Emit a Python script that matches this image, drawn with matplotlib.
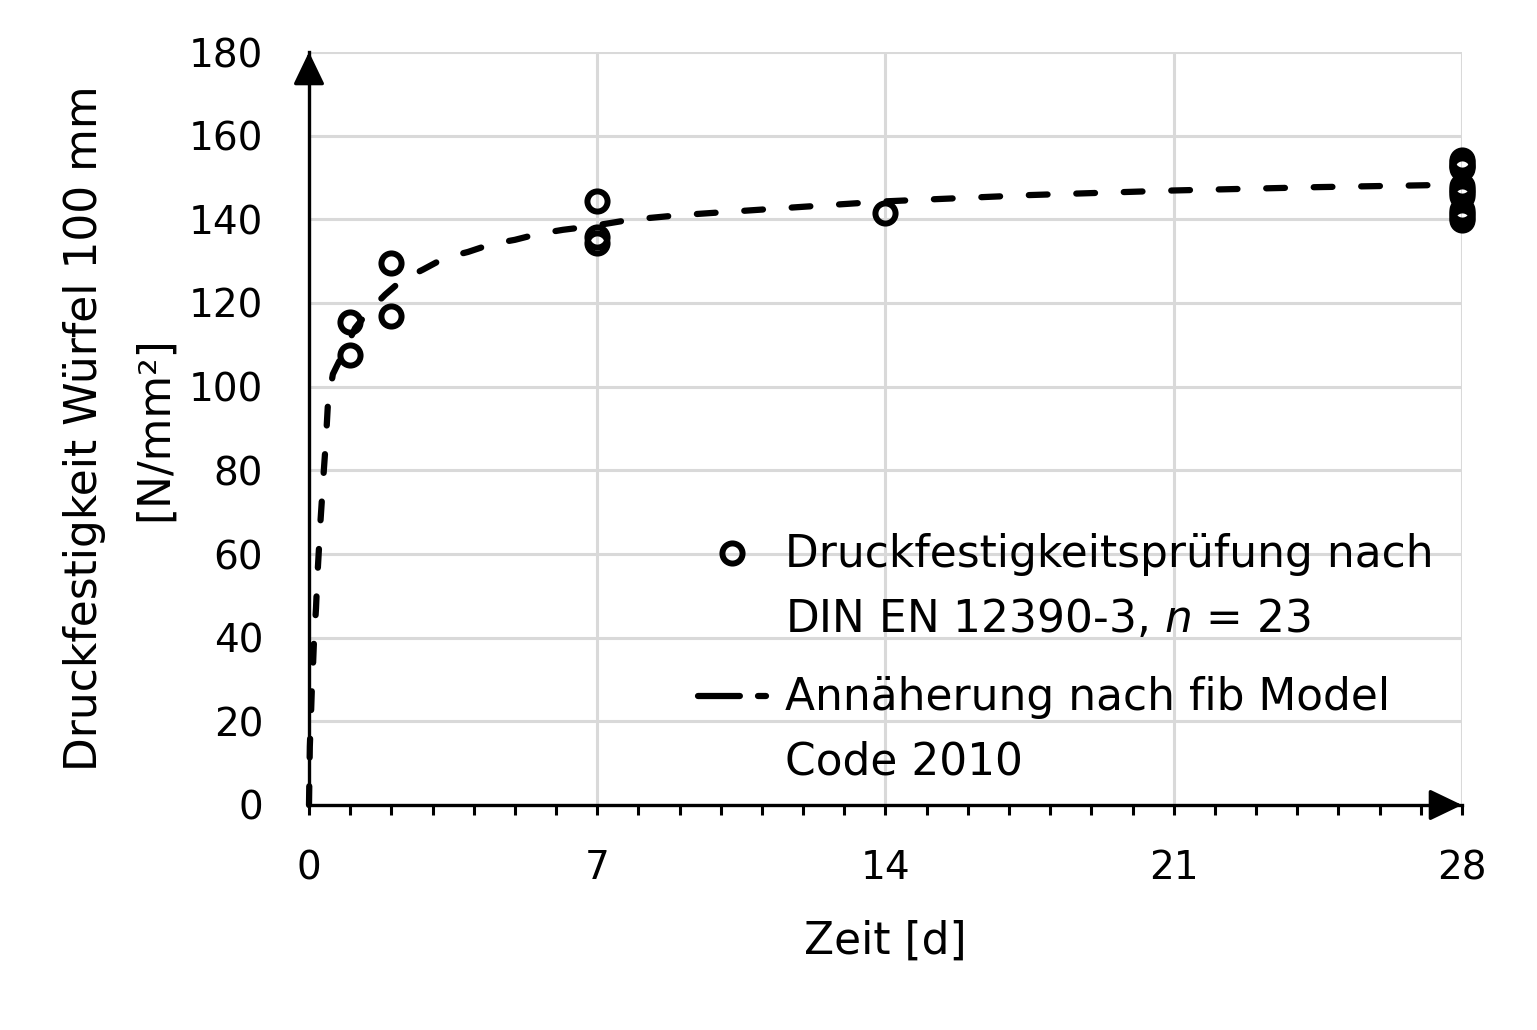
import numpy as np
import matplotlib
matplotlib.use("Agg")
import matplotlib.pyplot as plt
from matplotlib.lines import Line2D
from matplotlib.legend_handler import HandlerLine2D
from matplotlib.ticker import MultipleLocator, FixedLocator

plt.rcParams['font.family'] = ['DejaVu Sans']

# ---------------- data ----------------
test_days = [1, 1, 2, 2, 7, 7, 7, 14,
             28, 28, 28, 28, 28, 28, 28, 28, 28, 28, 28, 28, 28, 28, 28]
test_strength = [107.5, 115.5, 117.0, 129.5, 144.3, 135.8, 134.4, 141.4,
                 154.2, 153.6, 153.1, 152.7, 152.2,
                 148.0, 147.3, 146.7, 146.2, 145.6,
                 142.3, 141.6, 141.0, 140.4, 139.8]

model_days = [0.0, 0.02, 0.05, 0.07, 0.10, 0.12, 0.17, 0.20, 0.24, 0.28,
              0.32, 0.36, 0.41, 0.46, 0.58, 0.83, 1.12, 1.43, 1.85, 2.26,
              2.77, 3.30, 3.86, 4.44, 5.0, 5.56, 6.17, 6.75, 7.31, 7.8,
              9.0, 10.5, 12.0, 14.0, 17.5, 21.0, 24.5, 28.0]
model_strength = [0, 14, 22, 28, 34, 39, 47, 54, 61, 68,
                  74, 80, 87, 96, 103, 108, 114, 117.8, 122, 125.5,
                  128, 130.8, 132.2, 134.1, 135.1, 136.5, 137.5, 138.2, 139.1, 139.9,
                  141.0, 142.0, 143.0, 144.3, 145.8, 146.9, 147.7, 148.3]

x_ticks = [0, 7, 14, 21, 28]
y_ticks = [0, 20, 40, 60, 80, 100, 120, 140, 160, 180]

label_tests = "Druckfestigkeitsprüfung nach\nDIN EN 12390-3, $\\mathit{n}$ = 23"
label_model = "Annäherung nach fib Model\nCode 2010"
x_label = "Zeit [d]"
y_label = "Druckfestigkeit Würfel 100 mm\n[N/mm²]"

# ---------------- figure ----------------
W, H, DPI = 1537, 1030, 100
fig = plt.figure(figsize=(W / DPI, H / DPI), dpi=DPI)
ax = fig.add_axes([309 / W, 1 - 805 / H, (1462 - 309) / W, (805 - 52) / H])

FS_LAB = 31.6
FS_TICK = 28

ax.set_xlim(0, 28)
ax.set_ylim(0, 180)
ax.xaxis.set_major_locator(FixedLocator(x_ticks))
ax.xaxis.set_minor_locator(MultipleLocator(1))
ax.yaxis.set_major_locator(FixedLocator(y_ticks))

ax.set_axisbelow(True)
ax.grid(True, which='major', color='#d9d9d9', lw=2.2)

for s in ['top', 'right']:
    ax.spines[s].set_visible(False)
for s in ['left', 'bottom']:
    ax.spines[s].set_linewidth(2.4)
    ax.spines[s].set_color('black')

ax.tick_params(axis='y', length=0, pad=33, labelsize=FS_TICK)
ax.tick_params(axis='x', which='both', direction='out', length=7, width=2.2,
               pad=25, labelsize=FS_TICK, color='black')

# arrow heads at axis ends
arrow_kw = dict(arrowstyle='-|>,head_length=1.0,head_width=0.48', lw=2.4,
                color='black', shrinkA=0, shrinkB=0, mutation_scale=20)
ax.annotate('', xy=(0, 1), xytext=(0, 0.96), xycoords='axes fraction',
            textcoords='axes fraction', arrowprops=arrow_kw, annotation_clip=False)
ax.annotate('', xy=(1, 0), xytext=(0.975, 0), xycoords='axes fraction',
            textcoords='axes fraction', arrowprops=arrow_kw, annotation_clip=False)

# model curve
line, = ax.plot(model_days, model_strength, color='black', lw=4.5,
                dashes=(3.0, 4.6), dash_capstyle='round', zorder=3,
                clip_on=False)

# test points
pts, = ax.plot(test_days, test_strength, linestyle='none', marker='o',
               ms=14.5, mew=4.3, mfc='none', mec='black', zorder=4,
               clip_on=False)

ax.set_xlabel(x_label, fontsize=FS_LAB, labelpad=23)
ax.set_ylabel(y_label, fontsize=FS_LAB, labelpad=9, linespacing=1.8)


class TopHandler(HandlerLine2D):
    def __init__(self, shift, **kw):
        super().__init__(**kw)
        self.shift = shift

    def create_artists(self, legend, orig_handle, xdescent, ydescent,
                       width, height, fontsize, trans):
        arts = super().create_artists(legend, orig_handle, xdescent, ydescent,
                                      width, height, fontsize, trans)
        for a in arts:
            a.set_ydata(np.asarray(a.get_ydata()) + self.shift * fontsize)
        return arts


h_pts = Line2D([], [], linestyle='none', marker='o', ms=14.5, mew=4.3,
               mfc='none', mec='black')
h_line = Line2D([], [], color='black', lw=4.5, dashes=(6.7, 2.9),
                dash_capstyle='round')

leg = ax.legend([h_pts, h_line], [label_tests, label_model],
                loc='upper left', bbox_to_anchor=(0.3375, 0.361),
                frameon=False, fontsize=FS_LAB, borderpad=0, borderaxespad=0,
                handlelength=1.55, handletextpad=0.42, labelspacing=0.8,
                handler_map={h_pts: TopHandler(0.82, numpoints=1),
                             h_line: TopHandler(0.82)})
for t in leg.get_texts():
    t.set_linespacing(1.64)

fig.savefig('out.png', dpi=DPI)
